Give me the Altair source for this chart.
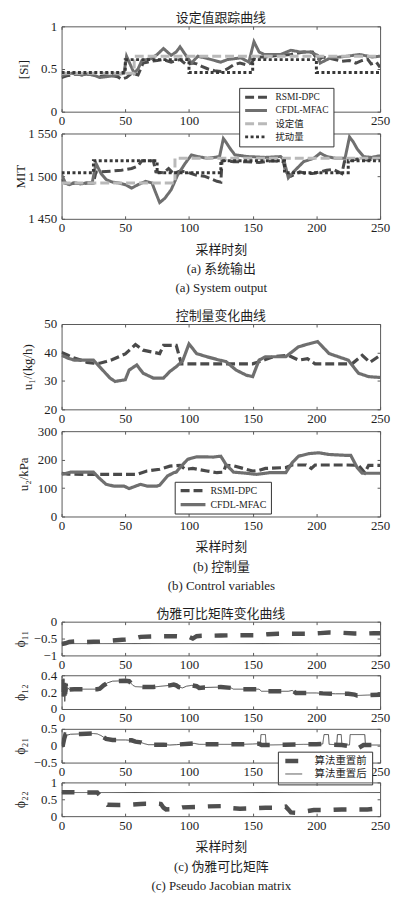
import altair as alt
import pandas as pd

FONT = "'Liberation Serif', 'Noto Sans CJK SC', serif"
CJK = "'Noto Sans CJK SC', sans-serif"
TXT = "#1e1e1e"
FRAME = "#5a5a5a"
W = 321
H_BIG = 86
H_SMALL = 34

X_TICKS = [0, 50, 100, 150, 200, 250]

NAMES_SYS = ["RSMI-DPC", "CFDL-MFAC", "设定值", "扰动量"]
NAMES_CTL = ["RSMI-DPC", "CFDL-MFAC"]
NAMES_PJM = ["算法重置前", "算法重置后"]

# ---------------- (a) [Si]
SI_RSMI_T = [0, 4, 8, 12, 16, 20, 25, 30, 35, 40, 44, 47, 51, 55, 60, 64, 67, 70, 75, 80,
             86, 90, 93, 98, 103, 106, 110, 115, 120, 125, 130, 135, 140, 145, 149, 152, 160, 170, 180, 190,
             197, 201, 205, 212, 220, 226, 231, 236, 240, 243, 247, 250]
SI_RSMI_V = [0.40, 0.42, 0.43, 0.44, 0.43, 0.44, 0.43, 0.41, 0.43, 0.42, 0.41, 0.38, 0.40, 0.45, 0.43, 0.57, 0.58, 0.59, 0.60, 0.61,
             0.58, 0.60, 0.61, 0.55, 0.57, 0.56, 0.53, 0.50, 0.48, 0.47, 0.50, 0.55, 0.57, 0.55, 0.57, 0.64, 0.64, 0.66, 0.67, 0.70,
             0.70, 0.60, 0.64, 0.62, 0.59, 0.60, 0.57, 0.60, 0.62, 0.56, 0.58, 0.52]
SI_CFDL_T = [0, 4, 8, 12, 16, 20, 25, 30, 35, 40, 45, 49, 51, 54, 57, 60, 63, 70, 75, 80,
             86, 90, 93, 98, 102, 107, 115, 120, 125, 130, 135, 141, 147, 151, 155, 159, 165, 172, 180, 187,
             195, 201, 203, 211, 218, 224, 234, 244, 250]
SI_CFDL_V = [0.42, 0.44, 0.45, 0.44, 0.43, 0.44, 0.43, 0.40, 0.41, 0.42, 0.44, 0.45, 0.65, 0.55, 0.45, 0.50, 0.60, 0.62, 0.67, 0.74,
             0.66, 0.70, 0.76, 0.65, 0.57, 0.65, 0.62, 0.60, 0.58, 0.61, 0.62, 0.63, 0.58, 0.82, 0.70, 0.67, 0.67, 0.67, 0.72, 0.70,
             0.70, 0.66, 0.57, 0.63, 0.64, 0.65, 0.67, 0.64, 0.65]
SI_SET_T = [0, 57, 57, 250]
SI_SET_V = [0.45, 0.45, 0.65, 0.65]
SI_DIST_T = [0, 50, 50, 100, 100, 150, 150, 200, 200, 250]
SI_DIST_V = [0.46, 0.46, 0.61, 0.61, 0.46, 0.46, 0.61, 0.61, 0.46, 0.46]

# ---------------- (a) MIT
MIT_RSMI_T = [0, 2, 5, 10, 15, 20, 25, 27, 30, 40, 47, 55, 60, 63, 68, 72, 74, 80, 84, 88,
              93, 98, 106, 112, 117, 122, 125, 126, 130, 135, 145, 155, 165, 174, 176, 180, 187, 192, 197, 203,
              208, 213, 220, 222, 226, 232, 240, 245, 250]
MIT_RSMI_V = [1497, 1492, 1491, 1492, 1491, 1492, 1492, 1505, 1505, 1506, 1507, 1509, 1512, 1518, 1518, 1518, 1505, 1504, 1509, 1503,
              1506, 1505, 1501, 1500, 1497, 1494, 1493, 1519, 1518, 1517, 1517, 1516, 1518, 1517, 1505, 1500, 1505, 1503, 1503, 1505,
              1507, 1508, 1503, 1517, 1518, 1520, 1519, 1520, 1521]
MIT_CFDL_T = [0, 3, 6, 10, 15, 20, 24, 27, 31, 35, 40, 45, 50, 55, 60, 66, 71, 73, 77, 81,
              86, 91, 97, 102, 107, 114, 120, 124, 127, 129, 132, 136, 146, 160, 172, 174.5, 178, 182, 190, 198,
              203, 208, 215, 222.5, 226, 229, 232, 237, 243, 250]
MIT_CFDL_V = [1502, 1492, 1490, 1492, 1491, 1492, 1492, 1515, 1503, 1496, 1493, 1492, 1490, 1486, 1490, 1494, 1492, 1484, 1469, 1474,
              1484, 1501, 1515, 1525, 1523, 1521, 1522, 1523, 1544, 1540, 1533, 1525, 1523, 1522, 1523, 1519, 1498, 1505, 1517, 1521,
              1527, 1523, 1521, 1521, 1546, 1540, 1532, 1523, 1522, 1524]
MIT_SET_T = [0, 89, 89, 250]
MIT_SET_V = [1492, 1492, 1521, 1521]
MIT_DIST_T = [0, 25, 25, 75, 75, 125, 125, 175, 175, 225, 225, 250]
MIT_DIST_V = [1504, 1504, 1518, 1518, 1504, 1504, 1518, 1518, 1504, 1504, 1518, 1518]

# ---------------- (b) u1
U1_RSMI_T = [0, 5, 10, 15, 20, 25, 30, 35, 40, 45, 50, 55, 58, 64, 77, 80, 90, 94, 150, 160,
             166, 178, 186, 193, 199, 228, 236, 242, 250]
U1_RSMI_V = [40, 39, 38, 37.3, 36.5, 36.2, 36.2, 36.8, 37.5, 38.5, 39.5, 41.5, 42.8, 40.8, 39.6, 42.5, 42.5, 36, 36, 37.5,
             38.5, 39, 37.3, 37.8, 36, 36, 39, 36.5, 39]
U1_CFDL_T = [0, 5, 10, 25, 31, 38, 42, 50, 53, 57, 59, 64, 72, 80, 85, 90, 95, 100, 106, 114,
             124, 129, 137, 145, 150, 155, 160, 176, 186, 194, 201, 210, 225, 233, 241, 250]
U1_CFDL_V = [39, 38, 37.3, 37.3, 34.4, 31, 29.8, 30.4, 33.8, 35, 35.6, 32.7, 31, 31, 33.3, 35, 37, 43, 39.6, 38.5,
             37.3, 36.8, 33.8, 32, 31.5, 37.3, 38.5, 38.5, 42, 43, 43.8, 39.6, 37.3, 32.7, 31.5, 31.2]

# ---------------- (b) u2
U2_RSMI_T = [0, 5, 20, 40, 59, 67, 77, 85, 93, 97, 103, 114, 122, 127, 129, 135, 145, 150, 155, 160,
             176, 181, 192, 196, 199, 223, 233, 238, 241, 250]
U2_RSMI_V = [152, 149, 148, 148, 148, 160, 166, 177, 180, 166, 169, 160, 154, 156, 180, 178, 166, 160, 162, 169,
             172, 181, 181, 169, 181, 181, 180, 154, 180, 180]
U2_CFDL_T = [0, 7, 25, 29, 35, 41, 49, 53, 57, 62, 67, 75, 77, 83, 88, 90, 94, 99, 106, 119,
             125, 129, 135, 145, 153, 163, 176, 181, 186, 194, 202, 210, 223, 227, 232, 236, 250]
U2_CFDL_V = [148, 156, 156, 137, 113, 107, 107, 98, 105, 113, 107, 107, 110, 142, 154, 156, 177, 201, 210, 209,
             212, 183, 156, 152, 148, 154, 154, 189, 212, 221, 224, 218, 215, 215, 172, 152, 152]

# ---------------- (c) pseudo Jacobian
PHI11_BEFORE_T = [0, 3, 6, 10, 20, 30, 40, 50, 57, 62, 70, 80, 90, 100, 103, 106, 110, 125, 140, 155,
                  162, 170, 185, 195, 203, 210, 220, 230, 240, 245, 250]
PHI11_BEFORE_V = [-0.66, -0.64, -0.60, -0.59, -0.60, -0.59, -0.56, -0.53, -0.50, -0.45, -0.44, -0.43, -0.43, -0.45, -0.50,
                  -0.43, -0.42, -0.41, -0.40, -0.40, -0.37, -0.36, -0.36, -0.36, -0.34, -0.32, -0.33, -0.35, -0.35, -0.34, -0.34]
PHI11_AFTER_T = [0, 250]
PHI11_AFTER_V = [-0.65, -0.65]

PHI12_T = [0, 0.5, 1.2, 1.8, 2.5, 3.2, 4, 5, 6, 10, 20, 28, 30, 33, 36, 40, 50, 53, 56, 58,
           65, 72, 78, 85, 88, 90, 92, 95, 98, 102, 106, 108, 112, 125, 133, 135, 145, 155, 157, 165,
           178, 181, 184, 190, 200, 205, 215, 225, 230, 232, 240, 250]
PHI12_V = [0.20, 0.35, 0.15, 0.36, 0.09, 0.30, 0.20, 0.25, 0.23, 0.235, 0.235, 0.235, 0.24, 0.28, 0.31, 0.33, 0.335, 0.33, 0.28, 0.265,
           0.26, 0.26, 0.27, 0.28, 0.29, 0.28, 0.26, 0.25, 0.27, 0.28, 0.27, 0.25, 0.255, 0.26, 0.25, 0.235, 0.235, 0.235, 0.21, 0.21,
           0.21, 0.22, 0.19, 0.19, 0.19, 0.185, 0.18, 0.18, 0.17, 0.16, 0.165, 0.17]

PHI21_BEFORE_T = [0, 1, 2, 3, 5, 7, 15, 25, 28, 31, 35, 40, 50, 55, 58, 62, 65, 68, 80, 85,
                  90, 100, 104, 108, 120, 130, 140, 150, 155, 157, 165, 175, 190, 200, 205, 210, 220, 224, 228, 232,
                  237, 250]
PHI21_BEFORE_V = [0.0, 0.02, 0.20, 0.33, 0.32, 0.34, 0.35, 0.36, 0.35, 0.30, 0.20, 0.17, 0.17, 0.16, 0.12, 0.10, 0.06, 0.03, 0.03, 0.02,
                  0.03, 0.06, 0.07, 0.04, 0.04, 0.04, 0.04, 0.05, 0.06, 0.02, 0.02, 0.03, 0.04, 0.04, 0.05, 0.03, 0.02, 0.0, -0.05, -0.09,
                  0.02, 0.02]
PHI21_AFTER_T = [0, 1, 2, 3, 5, 7, 15, 25, 28, 31, 35, 40, 50, 55, 58, 62, 65, 68, 80, 85,
                 90, 100, 104, 108, 120, 130, 140, 150, 155, 156, 156.5, 160, 160.5, 175, 190, 200, 205, 206, 209.5, 210,
                 216, 216.5, 219.5, 220, 226, 226.5, 238, 238.5, 250]
PHI21_AFTER_V = [0.0, 0.02, 0.20, 0.33, 0.32, 0.34, 0.35, 0.36, 0.35, 0.30, 0.20, 0.17, 0.17, 0.16, 0.12, 0.10, 0.06, 0.03, 0.03, 0.02,
                 0.03, 0.06, 0.07, 0.04, 0.04, 0.04, 0.04, 0.05, 0.06, 0.02, 0.33, 0.33, 0.02, 0.03, 0.04, 0.04, 0.05, 0.33, 0.33, 0.04,
                 0.03, 0.33, 0.33, 0.03, 0.02, 0.33, 0.33, 0.02, 0.02]

PHI22_BEFORE_T = [0, 10, 20, 28, 30, 33, 36, 45, 55, 62, 66, 75, 78, 80, 82, 90, 95, 105, 115, 128,
                  133, 140, 150, 160, 170, 176, 178, 180, 185, 190, 198, 210, 220, 230, 240, 250]
PHI22_BEFORE_V = [0.71, 0.71, 0.70, 0.70, 0.62, 0.45, 0.34, 0.33, 0.34, 0.36, 0.37, 0.37, 0.36, 0.25, 0.20, 0.21, 0.26, 0.27, 0.29, 0.30,
                  0.24, 0.22, 0.23, 0.25, 0.25, 0.28, 0.20, 0.11, 0.10, 0.13, 0.18, 0.18, 0.20, 0.20, 0.20, 0.23]
PHI22_AFTER_T = [0, 250]
PHI22_AFTER_V = [0.70, 0.70]

# ---------------- styles
SYS_COLORS = ["#4a4a4a", "#6f6f6f", "#b9b9b9", "#383838"]
SYS_DASHES = [[9, 4], [1, 0], [9, 4], [3, 2.5]]
SYS_WIDTHS = [3, 3, 3.5, 3.5]
CTL_COLORS = ["#4a4a4a", "#6f6f6f"]
CTL_DASHES = [[9, 4], [1, 0]]
CTL_WIDTHS = [3.2, 3.2]
PJM_COLORS = ["#4f4f4f", "#4f4f4f"]
PJM_DASHES = [[13, 13], [1, 0]]
PJM_WIDTHS = [4.5, 1]


def frame(series):
    rows = []
    for name, ts, vs in series:
        for i, (t, v) in enumerate(zip(ts, vs)):
            rows.append({"s": name, "t": t, "v": v, "i": i})
    return pd.DataFrame(rows)


def make_legend(x, y, size, sym, offset, rowpad, clip, pad):
    return alt.Legend(title=None, orient="none", legendX=x, legendY=y, symbolType="stroke",
                      symbolSize=sym, labelFont=FONT, labelFontSize=size, labelColor=TXT,
                      labelOffset=offset, rowPadding=rowpad, clipHeight=clip, padding=pad,
                      strokeColor="#333333", fillColor="white", labelLimit=200)


def panel(df, names, colors, dashes, widths, ydom, yticks, yfmt, ytitle, ytitle_cx, h,
          title=None, xtitle=None, xtitle_y=0, legend=None, label_expr=None, ytitle_size=13):
    xs = alt.Scale(domain=[0, 250], nice=False, zero=False)
    ys = alt.Scale(domain=ydom, nice=False, zero=False)
    xkw = dict(values=X_TICKS, orient="bottom", offset=-3, tickSize=3, tickColor=FRAME, labelPadding=3,
               labelFont=FONT, labelFontSize=13, labelColor=TXT, labelFlush=False, labelOverlap=False,
               domain=False, grid=False, format="d")
    if xtitle:
        xkw.update(title=xtitle, titleFont=FONT, titleFontSize=13, titleFontWeight="normal", titleColor=TXT,
                   titleLineHeight=19.5, titleBaseline="top", titleAlign="center", titleX=W / 2, titleY=xtitle_y)
    else:
        xkw["title"] = None
    ykw = dict(values=yticks, orient="left", offset=-3, tickSize=3, tickColor=FRAME, labelPadding=5,
               labelFont=FONT, labelFontSize=13, labelColor=TXT, labelFlush=False, labelOverlap=False,
               domain=False, grid=False, title=ytitle, titleFont=FONT, titleFontSize=ytitle_size,
               titleFontWeight="normal", titleColor=TXT, titleBaseline="middle", titleAlign="center",
               titleX=ytitle_cx - 64, titleY=h / 2)
    if label_expr:
        ykw["labelExpr"] = label_expr
    else:
        ykw["format"] = yfmt

    lines = alt.Chart(df).mark_line(clip=True).encode(
        x=alt.X("t:Q", scale=xs, axis=alt.Axis(**xkw)),
        y=alt.Y("v:Q", scale=ys, axis=alt.Axis(**ykw)),
        color=alt.Color("s:N", scale=alt.Scale(domain=names, range=colors), legend=legend),
        strokeDash=alt.StrokeDash("s:N", scale=alt.Scale(domain=names, range=dashes), legend=legend),
        strokeWidth=alt.StrokeWidth("s:N", scale=alt.Scale(domain=names, range=widths), legend=legend),
        order=alt.Order("i:Q"),
    )
    ticks = alt.Chart(df).mark_line(strokeOpacity=0).encode(
        x=alt.X("t:Q", scale=xs, axis=alt.Axis(values=X_TICKS, orient="top", offset=-3, tickSize=3,
                                                 tickColor=FRAME, labels=False, domain=False, grid=False,
                                                 title=None)),
        y=alt.Y("v:Q", scale=ys, axis=alt.Axis(values=yticks, orient="right", offset=-3, tickSize=3,
                                                 tickColor=FRAME, labels=False, domain=False, grid=False,
                                                 title=None)),
        detail="s:N",
        order=alt.Order("i:Q"),
    )
    ch = alt.layer(lines, ticks).resolve_axis(x="independent", y="independent").properties(width=W, height=h)
    if title:
        ch = ch.properties(title=alt.TitleParams(text=title, font=CJK, fontSize=13, fontWeight="normal",
                                                 color=TXT, offset=-5, anchor="middle", frame="group"))
    return ch


def spacer(g):
    return alt.Chart(pd.DataFrame({"z": [0]})).mark_point(opacity=0, size=1).encode(
        x=alt.value(1), y=alt.value(1)
    ).properties(width=W, height=g, view=alt.ViewBackground(stroke="transparent"))


si_df = frame([(NAMES_SYS[0], SI_RSMI_T, SI_RSMI_V), (NAMES_SYS[1], SI_CFDL_T, SI_CFDL_V),
               (NAMES_SYS[2], SI_SET_T, SI_SET_V), (NAMES_SYS[3], SI_DIST_T, SI_DIST_V)])
mit_df = frame([(NAMES_SYS[0], MIT_RSMI_T, MIT_RSMI_V), (NAMES_SYS[1], MIT_CFDL_T, MIT_CFDL_V),
                (NAMES_SYS[2], MIT_SET_T, MIT_SET_V), (NAMES_SYS[3], MIT_DIST_T, MIT_DIST_V)])
u1_df = frame([(NAMES_CTL[0], U1_RSMI_T, U1_RSMI_V), (NAMES_CTL[1], U1_CFDL_T, U1_CFDL_V)])
u2_df = frame([(NAMES_CTL[0], U2_RSMI_T, U2_RSMI_V), (NAMES_CTL[1], U2_CFDL_T, U2_CFDL_V)])
p11_df = frame([(NAMES_PJM[0], PHI11_BEFORE_T, PHI11_BEFORE_V), (NAMES_PJM[1], PHI11_AFTER_T, PHI11_AFTER_V)])
p12_df = frame([(NAMES_PJM[0], PHI12_T, PHI12_V), (NAMES_PJM[1], PHI12_T, PHI12_V)])
p21_df = frame([(NAMES_PJM[0], PHI21_BEFORE_T, PHI21_BEFORE_V), (NAMES_PJM[1], PHI21_AFTER_T, PHI21_AFTER_V)])
p22_df = frame([(NAMES_PJM[0], PHI22_BEFORE_T, PHI22_BEFORE_V), (NAMES_PJM[1], PHI22_AFTER_T, PHI22_AFTER_V)])

si = panel(si_df, NAMES_SYS, SYS_COLORS, SYS_DASHES, SYS_WIDTHS, [0, 1], [0, 0.5, 1], ".1~f", "[Si]", 23, H_BIG,
           title="设定值跟踪曲线")
mit = panel(mit_df, NAMES_SYS, SYS_COLORS, SYS_DASHES, SYS_WIDTHS, [1450, 1550], [1450, 1500, 1550], "d", "MIT", 20,
            H_BIG, xtitle=["采样时刻", "(a) 系统输出", "(a) System output"], xtitle_y=27.5,
            label_expr="replace(format(datum.value, ','), ',', ' ')",
            legend=make_legend(179, -46, 9.5, 484, 7, 3.3, 10, 4.5))
u1 = panel(u1_df, NAMES_CTL, CTL_COLORS, CTL_DASHES, CTL_WIDTHS, [20, 50], [20, 30, 40, 50], "d", "u₁/(kg/h)", 27,
           H_BIG, title="控制量变化曲线")
u2 = panel(u2_df, NAMES_CTL, CTL_COLORS, CTL_DASHES, CTL_WIDTHS, [0, 300], [0, 100, 200, 300], "d", "u₂/kPa", 23,
           H_BIG, xtitle=["采样时刻", "(b) 控制量", "(b) Control variables"], xtitle_y=27.5,
           legend=make_legend(114, 51, 10, 625, 3, 4, 10, 4))
p11 = panel(p11_df, NAMES_PJM, PJM_COLORS, PJM_DASHES, PJM_WIDTHS, [-1, 0], [-1, -0.5, 0], ".1~f", "ϕ₁₁", 20, H_SMALL,
            title="伪雅可比矩阵变化曲线", ytitle_size=14)
p12 = panel(p12_df, NAMES_PJM, PJM_COLORS, PJM_DASHES, PJM_WIDTHS, [0, 0.4], [0, 0.2, 0.4], ".1~f", "ϕ₁₂", 20, H_SMALL,
            ytitle_size=14)
p21 = panel(p21_df, NAMES_PJM, PJM_COLORS, PJM_DASHES, PJM_WIDTHS, [-0.5, 0.5], [-0.5, 0, 0.5], ".1~f", "ϕ₂₁", 20,
            H_SMALL, legend=make_legend(218, 23, 10.5, 289, 10, 2, 9, 5), ytitle_size=14)
p22 = panel(p22_df, NAMES_PJM, PJM_COLORS, PJM_DASHES, PJM_WIDTHS, [0, 1], [0, 0.5, 1], ".1~f", "ϕ₂₂", 20, H_SMALL,
            xtitle=["采样时刻", "(c) 伪雅可比矩阵", "(c) Pseudo Jacobian matrix"], xtitle_y=28, ytitle_size=14)

chart = alt.vconcat(
    si, spacer(22), mit, spacer(106), u1, spacer(22), u2, spacer(106),
    p11, spacer(20), p12, spacer(20), p21, spacer(20), p22,
    spacing=0, bounds="flush",
).resolve_scale(
    x="independent", y="independent", color="independent", strokeDash="independent", strokeWidth="independent"
).resolve_legend(
    color="independent", strokeDash="independent", strokeWidth="independent"
).properties(
    padding={"left": 5, "top": 0, "right": 0, "bottom": 0}
).configure_view(stroke=FRAME, strokeWidth=1)

chart.save("out.html", embed_options={"renderer": "svg", "actions": False})
